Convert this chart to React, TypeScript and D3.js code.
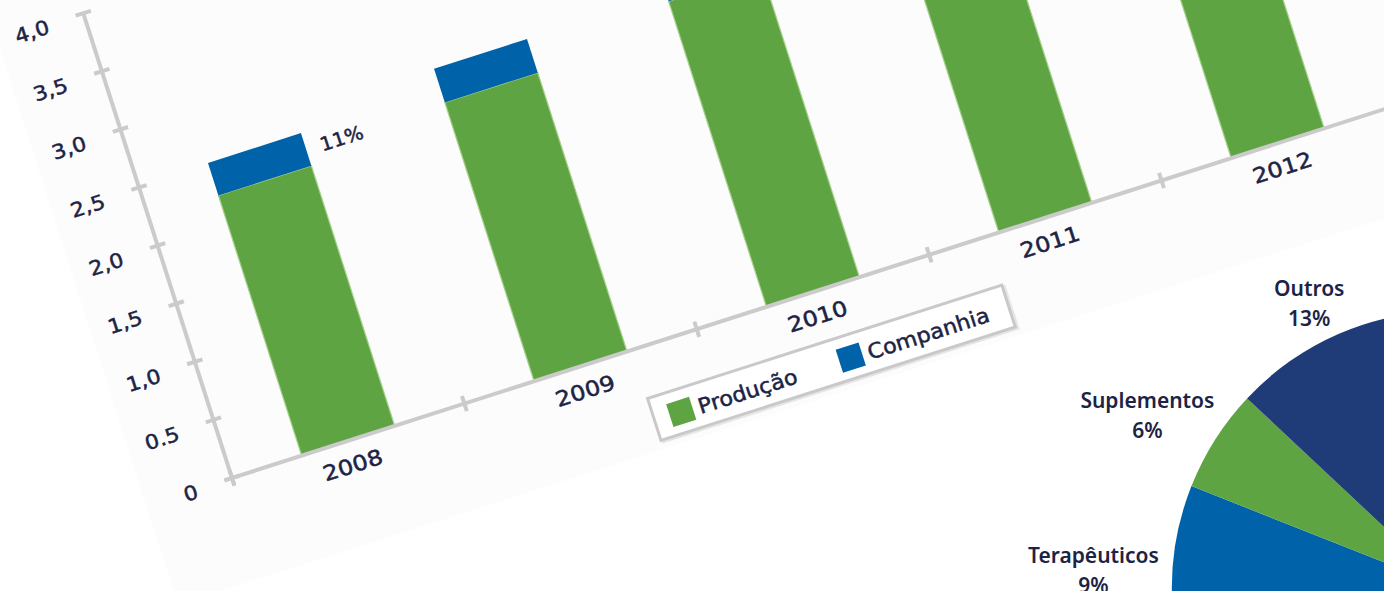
import React from "react";
import * as d3 from "d3";

// ---------- data ----------
const years = ["2008", "2009", "2010", "2011", "2012"];
const producao = [2.24, 2.4, 2.63, 2.95, 3.25];
const companhia = [0.28, 0.29, 0.31, 0.33, 0.36];
const shareLabels = ["11%", "", "", "", ""];
const seriesNames = ["Produção", "Companhia"];
const yTicks = [0, 0.5, 1, 1.5, 2, 2.5, 3, 3.5, 4];
const yTickLabels = ["0", "0.5", "1,0", "1,5", "2,0", "2,5", "3,0", "3,5", "4,0"];

const pieLabels = ["Terapêuticos", "Suplementos", "Outros"];
const pieValues = [9, 6, 13];

// ---------- layout / style ----------
const W = 1384;
const H = 591;
const ORIGIN_X = 232;
const ORIGIN_Y = 478;
const ANGLE = -17.75;
const X_LEN = 1220;
const Y_LEN = 488;
const GREEN = "#5fa443";
const BLUE = "#0062a8";
const NAVY = "#1f3b78";
const TEXT = "#1c2344";
const AXIS = "#cbcbcb";
const FONT = "'DejaVu Sans', Verdana, sans-serif";
const PIE_FONT = "'Noto Sans', 'Open Sans', sans-serif";
const PIE_CX = 1449;
const PIE_CY = 588;
const PIE_R = 277;

export default function App() {
  const x = d3
    .scaleBand<string>()
    .domain(years)
    .range([0, X_LEN])
    .paddingInner(0.6)
    .paddingOuter(0.3);
  const y = d3.scaleLinear().domain([0, 4]).range([0, -Y_LEN]);
  const step = x.step();

  const rows = years.map((yr, i) => ({
    year: yr,
    [seriesNames[0]]: producao[i],
    [seriesNames[1]]: companhia[i],
  }));
  const stacked = d3.stack<any>().keys(seriesNames)(rows);
  const colors = [GREEN, BLUE];

  const pieTotal = d3.sum(pieValues);
  const pieGen = d3
    .pie<number>()
    .sort(null)
    .startAngle(2 * Math.PI * (1 - pieTotal / 100))
    .endAngle(2 * Math.PI);
  const arcs = pieGen(pieValues);
  const arcGen = d3.arc<d3.PieArcDatum<number>>().innerRadius(0).outerRadius(PIE_R);
  const pieColors = [BLUE, GREEN, NAVY];

  const boundaries = d3.range(years.length + 1).map((i) => i * step);

  return (
    <svg
      width={W}
      height={H}
      viewBox={`0 0 ${W} ${H}`}
      style={{ position: "absolute", left: 0, top: 0, display: "block", background: "#ffffff" }}
    >
      <g transform={`translate(${ORIGIN_X},${ORIGIN_Y}) rotate(${ANGLE})`}>
        {/* panel background */}
        <rect x={-90} y={-1300} width={2200} height={1404} fill="#fcfcfc" />

        {/* bars */}
        {stacked.map((s, si) =>
          s.map((d, i) => (
            <rect
              key={`${si}-${i}`}
              x={x(years[i])}
              y={y(d[1])}
              width={x.bandwidth()}
              height={y(d[0]) - y(d[1])}
              fill={colors[si]}
              stroke={si === 0 ? "#a6d08c" : "none"}
              strokeWidth={si === 0 ? 1.2 : 0}
            />
          ))
        )}

        {/* share labels */}
        {shareLabels.map((lab, i) =>
          lab ? (
            <text
              key={`sl${i}`}
              transform={`translate(${(x(years[i]) as number) + x.bandwidth() + 15},${
                y((stacked[1][i][0] + stacked[1][i][1]) / 2) + 7
              }) scale(1.05,1)`}
              fontFamily={FONT}
              fontSize={19}
              fill={TEXT}
              stroke={TEXT}
              strokeWidth={0.5}
            >
              {lab}
            </text>
          ) : null
        )}

        {/* y axis */}
        <line x1={0} y1={8} x2={0} y2={y(4)} stroke={AXIS} strokeWidth={4} />
        {yTicks.map((t, i) => (
          <g key={`yt${i}`}>
            <line x1={-8} x2={8} y1={y(t)} y2={y(t)} stroke={AXIS} strokeWidth={4} />
            <text
              transform={`translate(-37,${y(t) + 9}) scale(1.1,1)`}
              textAnchor="end"
              fontFamily={FONT}
              fontSize={20}
              fill={TEXT}
              stroke={TEXT}
              strokeWidth={0.5}
            >
              {yTickLabels[i]}
            </text>
          </g>
        ))}

        {/* x axis */}
        <line x1={-8} y1={0} x2={X_LEN + 200} y2={0} stroke={AXIS} strokeWidth={4} />
        {boundaries.map((b, i) => (
          <line key={`xt${i}`} x1={b} x2={b} y1={-8} y2={8} stroke={AXIS} strokeWidth={4} />
        ))}
        {years.map((yr) => (
          <text
            key={`xl${yr}`}
            transform={`translate(${(x(yr) as number) + x.bandwidth() / 2 - 3},32) scale(1.15,1)`}
            textAnchor="middle"
            fontFamily={FONT}
            fontSize={21}
            fill={TEXT}
            stroke={TEXT}
            strokeWidth={0.5}
          >
            {yr}
          </text>
        ))}

        {/* legend */}
        <g transform="translate(420,51)">
          <rect x={2} y={2} width={372} height={44} fill="none" stroke="#e6e6e6" strokeWidth={3} />
          <rect x={0} y={0} width={372} height={44} fill="#ffffff" stroke="#c9c9c9" strokeWidth={3} />
          {seriesNames.map((name, i) => (
            <g key={`lg${i}`} transform={`translate(${16 + i * 178},11)`}>
              <rect x={0} y={0} width={24} height={24} fill={colors[i]} />
              <text
                transform={`translate(30,20) scale(1.06,1)`}
                fontFamily={FONT}
                fontSize={21}
                fill={TEXT}
                stroke={TEXT}
                strokeWidth={0.5}
              >
                {name}
              </text>
            </g>
          ))}
        </g>
      </g>

      {/* pie */}
      <g transform={`translate(${PIE_CX},${PIE_CY})`}>
        {arcs.map((a, i) => (
          <path key={`p${i}`} d={arcGen(a) as string} fill={pieColors[i]} />
        ))}
        {arcs.map((a, i) => {
          const mid = (a.startAngle + a.endAngle) / 2 - 0.05;
          const R = PIE_R + 7 + 72 * Math.abs(Math.sin(mid));
          const lx = R * Math.sin(mid);
          const ly = -R * Math.cos(mid);
          return (
            <text
              key={`pl${i}`}
              textAnchor="middle"
              fontFamily={PIE_FONT}
              fontWeight={600}
              fontSize={21}
              fill={TEXT}
            >
              <tspan x={lx} y={ly - 9}>
                {pieLabels[i]}
              </tspan>
              <tspan x={lx} y={ly + 21}>
                {`${pieValues[i]}%`}
              </tspan>
            </text>
          );
        })}
      </g>
    </svg>
  );
}
